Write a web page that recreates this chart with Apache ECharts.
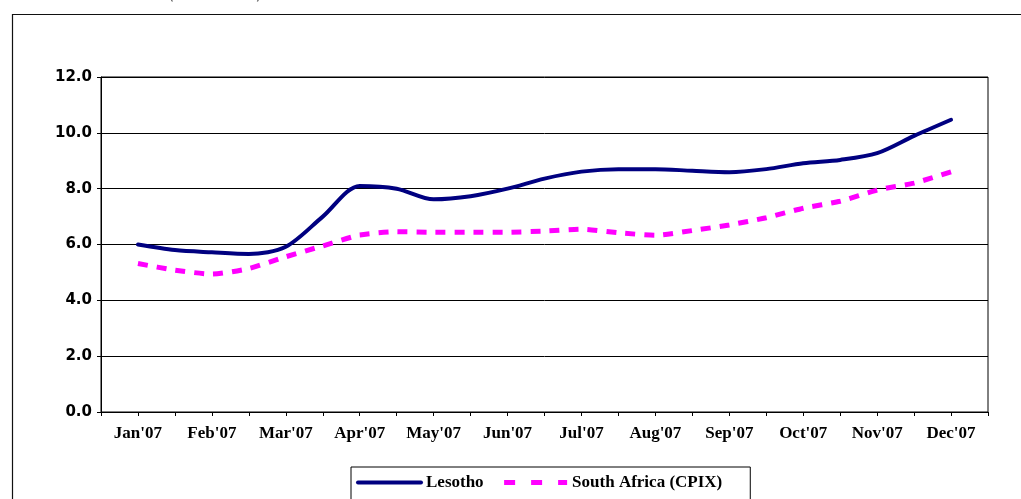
<!DOCTYPE html>
<html>
<head>
<meta charset="utf-8">
<script src="https://cdn.jsdelivr.net/npm/echarts@6/dist/echarts.min.js"></script>
<style>
  html, body { margin: 0; padding: 0; background: #fff; }
  #chart { width: 1021px; height: 499px; }
</style>
</head>
<body>
<div id="chart"></div>
<script>
// Month labels (ticks at each month and at each half-month in between)
const months = ["Jan'07", "Feb'07", "Mar'07", "Apr'07", "May'07", "Jun'07",
                "Jul'07", "Aug'07", "Sep'07", "Oct'07", "Nov'07", "Dec'07"];
const yTicks = [0, 2, 4, 6, 8, 10, 12];

// Half-monthly readings (index 0 and last are empty axis ends)
const lesotho = [null, 6.00, 5.80, 5.72, 5.66, 5.92, 7.00, 8.10, 8.00, 7.62, 7.73, 8.00,
                 8.36, 8.61, 8.70, 8.70, 8.64, 8.59, 8.70, 8.91, 9.03, 9.27, 9.89, 10.47, null];
const southAfrica = [null, 5.32, 5.08, 4.94, 5.14, 5.56, 5.95, 6.34, 6.46, 6.44, 6.44, 6.44,
                     6.48, 6.55, 6.42, 6.33, 6.50, 6.70, 6.96, 7.30, 7.55, 7.95, 8.20, 8.60, null];

const seriesNames = ["Lesotho", "South Africa (CPIX)"];

// Build category list: start, Jan, mid-Jan, Feb, ..., Dec, end
const categories = ["start"];
months.forEach((m, i) => {
  categories.push(m);
  categories.push(i < months.length - 1 ? "mid " + m : "end");
});

const chart = echarts.init(document.getElementById('chart'));
const serifBold = { fontFamily: '"Liberation Serif", serif', fontWeight: 'bold', color: '#000' };

chart.setOption({
  animation: false,
  backgroundColor: '#fff',
  graphic: [
    { type: 'rect', left: 10, top: 12, shape: { x: 0, y: 0, width: 1100, height: 600 },
      style: { fill: 'none', stroke: '#111', lineWidth: 1.2 }, silent: true },
    { type: 'text', left: 168, top: -13, style: { text: '(                )', font: '16px "DejaVu Sans"', fill: '#555' } }
  ],
  grid: { left: 101, right: 33, top: 77, bottom: 87, show: true, borderColor: '#000', borderWidth: 1 },
  legend: {
    left: 351, top: 467,
    padding: [7, 28, 14, 5],
    itemWidth: 63, itemHeight: 14, itemGap: 18,
    borderColor: '#000', borderWidth: 1,
    itemStyle: { opacity: 0 },
    textStyle: Object.assign({ fontSize: 17 }, serifBold),
    data: [
      { name: seriesNames[0], lineStyle: { width: 4, cap: 'round' } },
      { name: seriesNames[1], lineStyle: { width: 5, type: [11, 16], cap: 'butt' } }
    ]
  },
  xAxis: {
    type: 'category',
    data: categories,
    boundaryGap: false,
    axisLine: { lineStyle: { color: '#000', width: 1 } },
    axisTick: { interval: 0, length: 4, lineStyle: { color: '#000' } },
    axisLabel: Object.assign({
      interval: (i) => i % 2 === 1,
      fontSize: 17, margin: 13
    }, serifBold),
    splitLine: { show: false }
  },
  yAxis: {
    type: 'value',
    min: yTicks[0], max: yTicks[yTicks.length - 1], interval: 2,
    axisLine: { show: true, lineStyle: { color: '#000', width: 1 } },
    axisTick: { show: true, length: 4, lineStyle: { color: '#000' } },
    axisLabel: {
      formatter: (v) => v.toFixed(1),
      fontFamily: '"DejaVu Sans", Verdana, sans-serif', fontWeight: 'bold', fontSize: 15, color: '#000', margin: 9
    },
    splitLine: { lineStyle: { color: '#000', width: 1 } }
  },
  series: [
    {
      name: seriesNames[0], type: 'line', data: lesotho,
      smooth: 0.3, symbol: 'none', connectNulls: false,
      lineStyle: { color: '#000080', width: 4, cap: 'round', join: 'round' },
      itemStyle: { color: '#000080' }
    },
    {
      name: seriesNames[1], type: 'line', data: southAfrica,
      smooth: 0.2, symbol: 'none',
      lineStyle: { color: '#FF00FF', width: 5, type: [10, 9], cap: 'butt' },
      itemStyle: { color: '#FF00FF' }
    }
  ]
});
</script>
</body>
</html>
